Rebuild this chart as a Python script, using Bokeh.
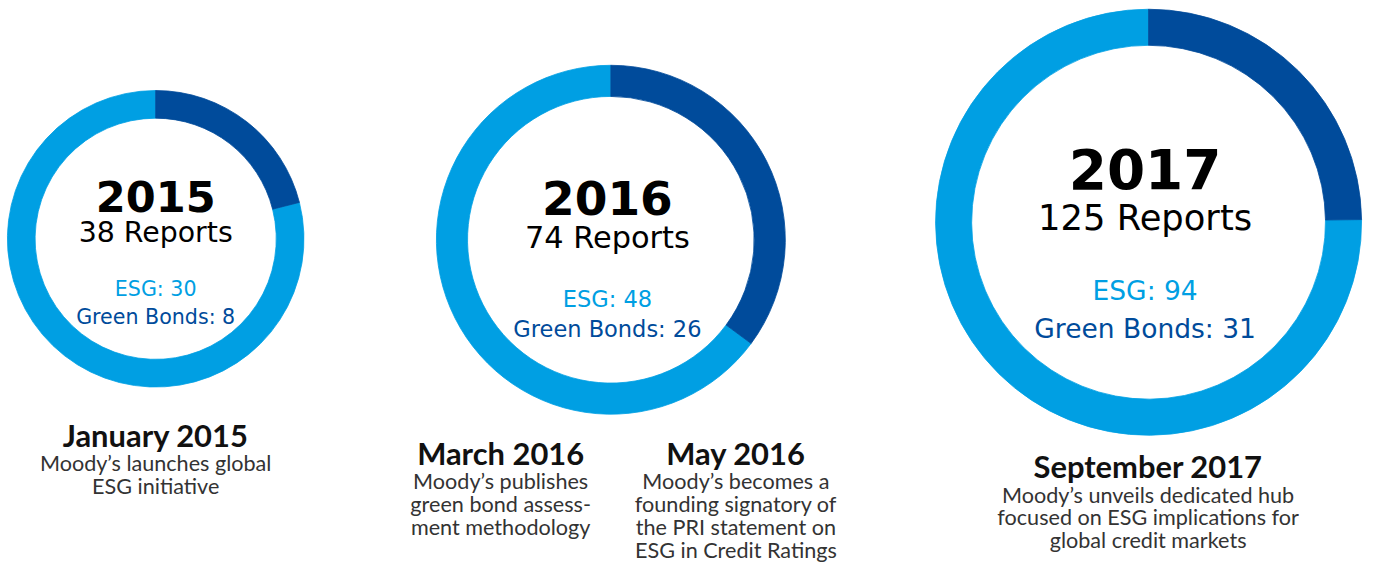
import numpy as np
from bokeh.plotting import figure
from bokeh.models import Range1d, ColumnDataSource
from bokeh.core.properties import value
from bokeh.embed import file_html
from bokeh.resources import INLINE

# ---------------- data ----------------
years = ["2015", "2016", "2017"]
esg_reports = [30, 48, 94]
green_bond_reports = [8, 26, 31]
total_reports = [38, 74, 125]

event_titles = ["January 2015", "March 2016", "May 2016", "September 2017"]
event_lines = [
    ["Moody\u2019s launches global", "ESG initiative"],
    ["Moody\u2019s publishes", "green bond assess-", "ment methodology"],
    ["Moody\u2019s becomes a", "founding signatory of", "the PRI statement on", "ESG in Credit Ratings"],
    ["Moody\u2019s unveils dedicated hub", "focused on ESG implications for", "global credit markets"],
]

# ---------------- layout (design pixels, 1384 x 583 design) ----------------
W, H = 1368, 567
DW, DH = 1384, 583
SCALE = 0.98  # font scaling to follow the design-to-figure fit

def fy(v):
    return DH - v

def fs(px):
    return f"{px * SCALE:.1f}px"

ring_cx = [157, 617.5, 1161.5]
ring_cy = [245, 246, 228]
ring_outer = [150, 176.5, 215.5]
ring_inner = [122, 145, 179]

label_cx = [157, 614, 1158]
year_base = [202, 203, 173]
reports_base = [239, 244, 223]
esg_base = [297, 307, 298]
green_base = [325, 338, 337]
year_size = [fs(44), fs(48), fs(56)]
reports_size = [fs(29), fs(31), fs(36)]
detail_size = [fs(21), fs(23), fs(27)]

event_cx = [157, 506, 744, 1161]
event_title_base = [447, 466, 466, 479]
event_body_base = [476, 494, 494, 508]
line_step = 23.5

LIGHT = "#009FE3"
DARK = "#004B9B"

p = figure(width=W, height=H, x_range=Range1d(0, DW), y_range=Range1d(0, DH),
           output_backend="svg", toolbar_location=None, min_border=0)
p.axis.visible = False
p.grid.visible = False
p.outline_line_color = None
p.background_fill_color = "white"
p.border_fill_color = "white"

# ---------------- donuts ----------------
wx, wy, wr, wR, ws, we, wc = [], [], [], [], [], [], []
for i in range(len(years)):
    tot = esg_reports[i] + green_bond_reports[i]
    a0 = np.pi / 2
    a1 = a0 + esg_reports[i] / tot * 2 * np.pi
    a2 = a0 + 2 * np.pi
    for s, e, c in [(a0, a1, LIGHT), (a1, a2, DARK)]:
        wx.append(ring_cx[i]); wy.append(fy(ring_cy[i]))
        wr.append(ring_inner[i]); wR.append(ring_outer[i])
        ws.append(s); we.append(e); wc.append(c)

wsrc = ColumnDataSource(dict(x=wx, y=wy, r=wr, R=wR, s=ws, e=we, c=wc))
p.annular_wedge(x="x", y="y", inner_radius="r", outer_radius="R",
                start_angle="s", end_angle="e", fill_color="c",
                line_color="c", line_width=0.8, source=wsrc)

# ---------------- centre labels ----------------
def add_text(xs, ys, texts, sizes, font, style, color):
    src = ColumnDataSource(dict(x=xs, y=[fy(v) for v in ys], t=texts, s=sizes))
    p.text(x="x", y="y", text="t", text_font_size="s", source=src,
           text_font=value(font), text_font_style=style, text_color=color,
           text_align="center", text_baseline="alphabetic")

add_text(label_cx, year_base, years, year_size, "DejaVu Sans", "bold", "#000000")
add_text(label_cx, reports_base, [f"{t} Reports" for t in total_reports],
         reports_size, "DejaVu Sans", "normal", "#000000")
add_text(label_cx, esg_base, [f"ESG: {v}" for v in esg_reports],
         detail_size, "DejaVu Sans", "normal", LIGHT)
add_text(label_cx, green_base, [f"Green Bonds: {v}" for v in green_bond_reports],
         detail_size, "DejaVu Sans", "normal", DARK)

# ---------------- events ----------------
add_text(event_cx, event_title_base, event_titles, [fs(31.5)] * len(event_titles),
         "Lato", "bold", "#111111")
bx, by, bt = [], [], []
for i, lines in enumerate(event_lines):
    for j, ln in enumerate(lines):
        bx.append(event_cx[i]); by.append(event_body_base[i] + j * line_step); bt.append(ln)
add_text(bx, by, bt, [fs(22)] * len(bt), "Lato", "normal", "#333333")

open("out.html", "w").write(file_html(p, INLINE))
